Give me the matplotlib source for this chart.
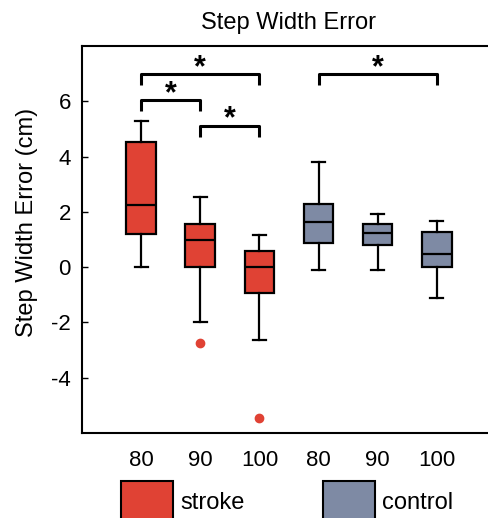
import matplotlib
matplotlib.use("Agg")
import matplotlib.pyplot as plt
from matplotlib.patches import Rectangle

plt.rcParams["font.family"] = ["Liberation Sans", "DejaVu Sans"]
plt.rcParams["axes.unicode_minus"] = False

# box statistics (cm)
tick_labels = ["80", "90", "100", "80", "90", "100"]
whislo = [0.0, -1.98, -2.63, -0.12, -0.12, -1.12]
q1 = [1.21, 0.0, -0.94, 0.86, 0.79, 0.0]
med = [2.24, 0.98, 0.0, 1.64, 1.25, 0.47]
q3 = [4.51, 1.56, 0.59, 2.30, 1.57, 1.27]
whishi = [5.27, 2.55, 1.16, 3.82, 1.93, 1.68]
fliers = [[], [-2.73], [-5.46], [], [], []]
groups = ["stroke", "stroke", "stroke", "control", "control", "control"]

# significance brackets: (left box, right box, bracket height)
sig_pairs = [(1, 3), (1, 2), (2, 3), (4, 6)]
sig_heights = [6.98, 6.04, 5.12, 6.98]

colors = {"stroke": "#E04234", "control": "#7E8AA4"}
FS = 16
FS_BIG = 17

fig = plt.figure(figsize=(4.89, 5.18), dpi=100)
ax = fig.add_axes([82 / 489, 1 - 433 / 518, 414 / 489, 387 / 518])

stats = []
for i in range(len(tick_labels)):
    stats.append(dict(whislo=whislo[i], q1=q1[i], med=med[i], q3=q3[i],
                      whishi=whishi[i], fliers=fliers[i]))
positions = list(range(1, len(stats) + 1))

bp = ax.bxp(stats, positions=positions, widths=0.5, capwidths=0.22,
            patch_artist=True,
            boxprops=dict(linewidth=1.6, edgecolor="black"),
            medianprops=dict(color="black", linewidth=1.6),
            whiskerprops=dict(color="black", linewidth=1.6),
            capprops=dict(color="black", linewidth=1.6),
            flierprops=dict(marker="o", markersize=6, markerfacecolor=colors["stroke"],
                            markeredgecolor=colors["stroke"]))
for patch, g in zip(bp["boxes"], groups):
    patch.set_facecolor(colors[g])

leg = 0.4
for (a, b), h in zip(sig_pairs, sig_heights):
    ax.plot([a, a, b, b], [h - leg, h, h, h - leg], color="black", lw=2.2,
            solid_joinstyle="round", solid_capstyle="butt")
    ax.text((a + b) / 2, h - 0.32, "*", ha="center", va="bottom",
            fontsize=22, fontweight="bold")

ax.set_xlim(0, 7)
ax.set_ylim(-6, 8)
ax.set_yticks([-4, -2, 0, 2, 4, 6])
ax.set_xticks(positions)
ax.set_xticklabels(tick_labels)
ax.tick_params(axis="both", direction="in", length=4, width=1, labelsize=FS)
ax.tick_params(axis="x", length=0, pad=12)
ax.tick_params(axis="y", right=True, pad=8)
for s in ax.spines.values():
    s.set_linewidth(1.5)

ax.set_title("Step Width Error", fontsize=FS_BIG, pad=12)
ax.set_ylabel("Step Width Error (cm)", fontsize=FS_BIG)
ax.yaxis.set_label_coords(-0.106, 0.545)

# legend drawn by hand under the axis labels
for x0, name in [(121, "stroke"), (323, "control")]:
    fig.patches.append(Rectangle((x0 / 489, 1 - 533 / 518), 52 / 489, 52 / 518,
                                 transform=fig.transFigure, facecolor=colors[name],
                                 edgecolor="black", linewidth=1.5))
    fig.text((x0 + 59) / 489, 1 - 503 / 518, name, fontsize=FS_BIG, va="center", ha="left")

fig.savefig("out.png", dpi=100)
